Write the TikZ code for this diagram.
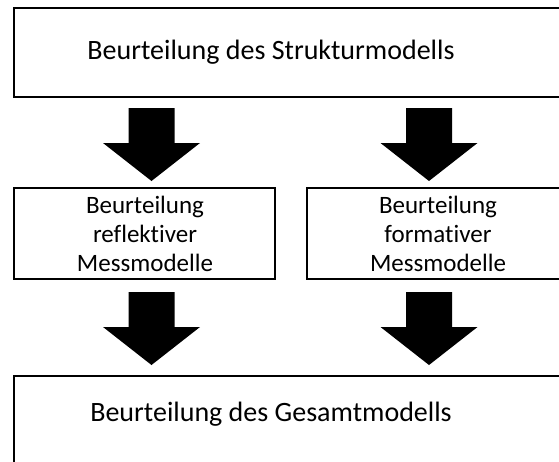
\documentclass[tikz,border=0pt]{standalone}
\usepackage{fontspec}
\setmainfont[Ligatures=NoCommon]{Carlito}
\begin{document}
\begin{tikzpicture}[x=1pt,y=-1pt,
  box/.style={draw=black, line width=1.7pt, fill=white, inner sep=0pt},
  bigtxt/.style={font=\fontsize{28}{34}\selectfont},
  midtxt/.style={font=\fontsize{25}{29}\selectfont, align=center},
  bigarrow/.pic={\fill[black] (-23,0) -- (23,0) -- (23,35) -- (48.5,35) -- (0,73) -- (-48.5,35) -- (-23,35) -- cycle;}]
\useasboundingbox (0,0) rectangle (559,461);
\clip (0,0) rectangle (559,461);
\fill[white] (0,0) rectangle (559,461);
% boxes
\draw[box] (14,8) rectangle (575,97);
\node[bigtxt] (top) at (271,52) {Beurteilung des Strukturmodells};
\draw[box] (14,188) rectangle (275,279);
\node[midtxt] (left) at (145,234) {Beurteilung\\reflektiver\\Messmodelle};
\draw[box] (307,188) rectangle (575,279);
\node[midtxt] (right) at (438,234) {Beurteilung\\formativer\\Messmodelle};
\draw[box] (14,376) rectangle (575,480);
\node[bigtxt] (bottom) at (271,414) {Beurteilung des Gesamtmodells};
% arrows
\pic at (151.5,108) {bigarrow};
\pic at (429,108) {bigarrow};
\pic at (151.5,292) {bigarrow};
\pic at (429,292) {bigarrow};
\end{tikzpicture}
\end{document}
